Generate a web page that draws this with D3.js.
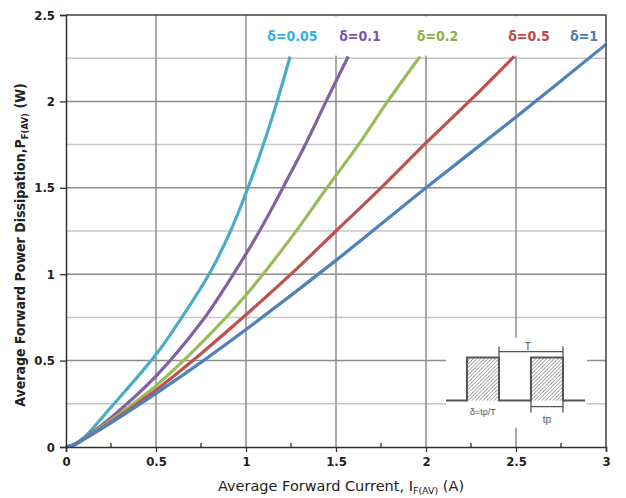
<!DOCTYPE html>
<html><head><meta charset="utf-8">
<script src="https://cdn.jsdelivr.net/npm/d3@7"></script>
<style>
html,body{margin:0;padding:0;background:#fff;}
svg{display:block;}
</style></head>
<body>
<svg id="c" width="626" height="498"></svg>
<script>
// ---- data ----
const xTickValues = [0, 0.5, 1, 1.5, 2, 2.5, 3];
const yTickValues = [0, 0.5, 1, 1.5, 2, 2.5];
const xTickLabels = ["0", "0.5", "1", "1.5", "2", "2.5", "3"];
const yTickLabels = ["0", "0.5", "1", "1.5", "2", "2.5"];
const seriesNames = ["δ=0.05", "δ=0.1", "δ=0.2", "δ=0.5", "δ=1"];
const seriesColors = ["#4bacc6", "#8064a2", "#9bbb59", "#c0504d", "#4f81bd"];
const labelColors = ["#33b0e0", "#8052b0", "#8fb048", "#c04545", "#4f77bd"];

const d005_x = [0, 0.05, 0.1, 0.25, 0.5, 0.65, 0.8, 0.91, 1.0, 1.09, 1.17, 1.245];
const d005_y = [0, 0.018, 0.055, 0.23, 0.535, 0.76, 1.01, 1.24, 1.47, 1.73, 1.99, 2.26];
const d01_x = [0, 0.05, 0.1, 0.25, 0.5, 0.75, 0.93, 1.075, 1.205, 1.325, 1.445, 1.568];
const d01_y = [0, 0.016, 0.05, 0.17, 0.41, 0.72, 1.0, 1.25, 1.5, 1.74, 2.0, 2.26];
const d02_x = [0, 0.05, 0.1, 0.25, 0.5, 0.75, 1.0, 1.25, 1.45, 1.625, 1.787, 1.967];
const d02_y = [0, 0.015, 0.047, 0.155, 0.355, 0.6, 0.88, 1.21, 1.5, 1.75, 2.0, 2.26];
const d05_x = [0, 0.05, 0.1, 0.25, 0.5, 0.75, 1.0, 1.25, 1.5, 1.75, 2.0, 2.25, 2.49];
const d05_y = [0, 0.015, 0.045, 0.145, 0.33, 0.54, 0.765, 1.0, 1.25, 1.5, 1.76, 2.01, 2.26];
const d1_x = [0, 0.05, 0.1, 0.25, 0.5, 0.75, 1.0, 1.5, 2.0, 2.5, 3.0];
const d1_y = [0, 0.015, 0.045, 0.14, 0.31, 0.49, 0.68, 1.08, 1.5, 1.91, 2.33];
const seriesX = [d005_x, d01_x, d02_x, d05_x, d1_x];
const seriesY = [d005_y, d01_y, d02_y, d05_y, d1_y];
const labelX = [1.258, 1.633, 2.064, 2.572, 2.878];

// ---- layout ----
const W = 626, H = 498;
const m = {l: 66, r: 20, t: 15, b: 51};
const x = d3.scaleLinear().domain([0, 3]).range([m.l, W - m.r]);
const y = d3.scaleLinear().domain([0, 2.5]).range([H - m.b, m.t]);
const FONT = "'DejaVu Sans Condensed','DejaVu Sans',sans-serif";

const svg = d3.select("#c");

// grid
const g = svg.append("g");
const minorY = d3.range(0.25, 2.5, 0.5);
g.selectAll(".hmin").data(minorY).join("line")
  .attr("x1", x(0)).attr("x2", x(3)).attr("y1", d => y(d)).attr("y2", d => y(d))
  .attr("stroke", "#c6c6c6").attr("stroke-width", 1.5);
g.selectAll(".hmaj").data(yTickValues.slice(1, -1)).join("line")
  .attr("x1", x(0)).attr("x2", x(3)).attr("y1", d => y(d)).attr("y2", d => y(d))
  .attr("stroke", "#8c8c8c").attr("stroke-width", 1.5);
g.selectAll(".vmaj").data(xTickValues.slice(1, -1)).join("line")
  .attr("y1", y(0)).attr("y2", y(2.5)).attr("x1", d => x(d)).attr("x2", d => x(d))
  .attr("stroke", "#8c8c8c").attr("stroke-width", 1.5);

// white label box at top (over grid, under curves)
svg.append("rect").attr("x", x(1.005)).attr("y", y(2.5) + 1.5)
  .attr("width", x(3) - x(1.005) - 1).attr("height", y(2.265) - y(2.5) - 1.5)
  .attr("fill", "#fff");

// curves
const line = d3.line().curve(d3.curveCatmullRom.alpha(0.5)).x(d => x(d[0])).y(d => y(d[1]));
seriesX.forEach((xs, i) => {
  const pts = xs.map((v, j) => [v, seriesY[i][j]]);
  svg.append("path").datum(pts).attr("d", line)
    .attr("fill", "none").attr("stroke", seriesColors[i]).attr("stroke-width", 3.2)
    .attr("stroke-linejoin", "round");
});

// labels
seriesNames.forEach((n, i) => {
  svg.append("text").attr("x", x(labelX[i])).attr("y", 41)
    .attr("text-anchor", "middle").attr("font-family", FONT)
    .attr("font-size", 14).attr("font-weight", "bold")
    .attr("fill", labelColors[i]).text(n);
});

// frame
svg.append("path")
  .attr("d", `M${x(0)},${y(2.5)}H${x(3)}V${y(0)}`)
  .attr("fill", "none").attr("stroke", "#404040").attr("stroke-width", 1.5);

// axes
const xAxis = svg.append("g").attr("transform", `translate(0,${y(0)})`)
  .call(d3.axisBottom(x).tickValues(xTickValues).tickFormat((d, i) => xTickLabels[i]).tickSize(5).tickPadding(5));
const yAxis = svg.append("g").attr("transform", `translate(${x(0)},0)`)
  .call(d3.axisLeft(y).tickValues(yTickValues).tickFormat((d, i) => yTickLabels[i]).tickSize(6).tickPadding(5));
[xAxis, yAxis].forEach(a => {
  a.select(".domain").attr("stroke", "#303030").attr("stroke-width", 1.5);
  a.selectAll(".tick line").attr("stroke", "#303030").attr("stroke-width", 1.3);
  a.selectAll(".tick text").attr("font-family", FONT).attr("font-size", 13)
    .attr("font-weight", "bold").attr("fill", "#222");
});
svg.selectAll(".mt").data(d3.range(0.25, 3, 0.5)).join("line")
  .attr("x1", d => x(d)).attr("x2", d => x(d)).attr("y1", y(0)).attr("y2", y(0) - 4)
  .attr("stroke", "#303030").attr("stroke-width", 1.3);

// axis titles
const xt = svg.append("text").attr("x", x(1.5) + 5).attr("y", 491)
  .attr("text-anchor", "middle").attr("font-family", "'DejaVu Sans',sans-serif").attr("font-size", 14.5)
  .attr("fill", "#222");
xt.append("tspan").text("Average Forward Current, I");
xt.append("tspan").attr("font-size", 9.5).attr("dy", 3).text("F(AV)");
xt.append("tspan").attr("dy", -3).text(" (A)");

const yt = svg.append("text").attr("transform", `translate(25,${y(1.25) + 14}) rotate(-90)`)
  .attr("text-anchor", "middle").attr("font-family", FONT).attr("font-size", 14)
  .attr("font-weight", "bold").attr("fill", "#222");
yt.append("tspan").text("Average Forward Power Dissipation,P");
yt.append("tspan").attr("font-size", 9.5).attr("dy", 3).text("F(AV)");
yt.append("tspan").attr("dy", -3).text(" (W)");

// ---- inset pulse diagram ----
const ins = svg.append("g").attr("transform", `translate(${x(2.111)},${y(0.633)})`);
ins.append("rect").attr("x", 0).attr("y", 0).attr("width", 141).attr("height", 90).attr("fill", "#fff");
const defs = svg.append("defs");
const pat = defs.append("pattern").attr("id", "hatch").attr("patternUnits", "userSpaceOnUse")
  .attr("width", 2.6).attr("height", 2.6).attr("patternTransform", "rotate(45)");
pat.append("rect").attr("width", 2.6).attr("height", 2.6).attr("fill", "#fff");
pat.append("line").attr("x1", 0).attr("y1", 0).attr("x2", 0).attr("y2", 2.6)
  .attr("stroke", "#6a6a6a").attr("stroke-width", 1.1);
const pBase = 63, pTop = 20;
[[21, 53], [85, 117]].forEach(([a, b]) => {
  ins.append("rect").attr("x", a).attr("y", pTop).attr("width", b - a).attr("height", pBase - pTop)
    .attr("fill", "url(#hatch)");
});
ins.append("path")
  .attr("d", `M0,${pBase}H21V${pTop}H53V${pBase}H85V${pTop}H117V${pBase}H139`)
  .attr("fill", "none").attr("stroke", "#555").attr("stroke-width", 2);
ins.append("path").attr("d", `M53,14H117M53,9V20M117,9V20`)
  .attr("fill", "none").attr("stroke", "#555").attr("stroke-width", 1.3);
ins.append("text").attr("x", 82).attr("y", 12).attr("text-anchor", "middle")
  .attr("font-family", "'Liberation Sans',Arial,sans-serif").attr("font-size", 11).attr("fill", "#555").text("T");
ins.append("path").attr("d", `M85,69H117M85,63V75M117,63V75`)
  .attr("fill", "none").attr("stroke", "#555").attr("stroke-width", 1.3);
ins.append("text").attr("x", 101).attr("y", 85).attr("text-anchor", "middle")
  .attr("font-family", "'Liberation Sans',Arial,sans-serif").attr("font-size", 10).attr("fill", "#555").text("tp");
ins.append("text").attr("x", 37).attr("y", 77).attr("text-anchor", "middle")
  .attr("font-family", "'Liberation Sans',Arial,sans-serif").attr("font-size", 9).attr("fill", "#555").text("δ=tp/T");
</script>
</body></html>
